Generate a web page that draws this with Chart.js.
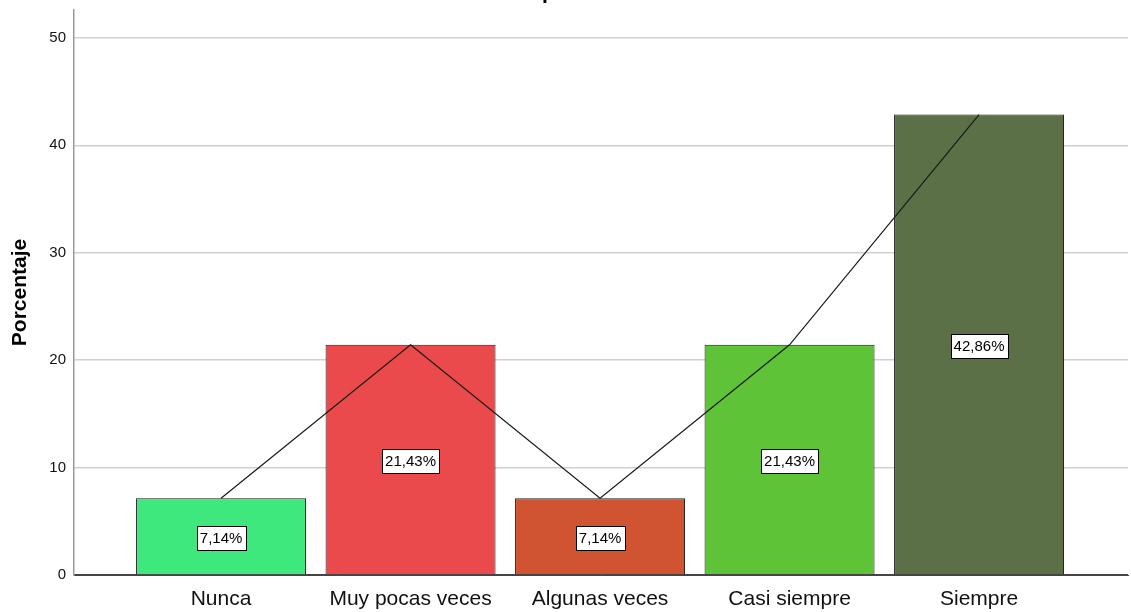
<!DOCTYPE html>
<html>
<head>
<meta charset="utf-8">
<script src="https://cdn.jsdelivr.net/npm/chart.js@4/dist/chart.umd.min.js"></script>
<style>
html,body{margin:0;padding:0;background:#ffffff;}
#wrap{width:1131px;height:612px;position:relative;}
</style>
</head>
<body>
<div id="wrap"><canvas id="c" width="1131" height="612"></canvas></div>
<script>
const categories = ['Nunca', 'Muy pocas veces', 'Algunas veces', 'Casi siempre', 'Siempre'];
const percentages = [7.14, 21.43, 7.14, 21.43, 42.86];
const valueLabels = ['7,14%', '21,43%', '7,14%', '21,43%', '42,86%'];
const barColors = ['#3FE87C', '#EB4A4C', '#D05332', '#5EC337', '#5B7047'];
const yTickValues = [0, 10, 20, 30, 40, 50];
const yAxisTitle = 'Porcentaje';
const clippedTitle = 'p';

const SANS = '"Liberation Sans", Arial, sans-serif';

const barData = categories.map((c, i) => ({ x: i, y: percentages[i] }));

const labelPlugin = {
  id: 'valueLabels',
  afterDatasetsDraw(chart) {
    const ctx = chart.ctx;
    const meta = chart.getDatasetMeta(1);
    const yScale = chart.scales.y;
    ctx.save();
    ctx.font = '15px ' + SANS;
    ctx.textAlign = 'center';
    ctx.textBaseline = 'middle';
    meta.data.forEach((bar, i) => {
      const cx = bar.x;
      const cy = (bar.y + yScale.getPixelForValue(0)) / 2 + 1;
      const txt = valueLabels[i];
      const w = Math.round(ctx.measureText(txt).width + 6);
      const h = 24;
      const x0 = Math.round(cx - w / 2) + 0.5;
      const y0 = Math.round(cy - h / 2) + 0.5;
      ctx.fillStyle = '#ffffff';
      ctx.fillRect(x0, y0, w, h);
      ctx.strokeStyle = '#000000';
      ctx.lineWidth = 1;
      ctx.strokeRect(x0, y0, w, h);
      ctx.fillStyle = '#000000';
      ctx.fillText(txt, cx, cy + 1);
    });
    ctx.restore();
  },
  afterDraw(chart) {
    const ctx = chart.ctx;
    ctx.save();
    ctx.font = 'bold 21px ' + SANS;
    ctx.fillStyle = '#000000';
    ctx.textAlign = 'left';
    ctx.textBaseline = 'alphabetic';
    ctx.fillText(clippedTitle, 542, -1);
    ctx.restore();
  }
};

new Chart(document.getElementById('c'), {
  type: 'bar',
  data: {
    datasets: [
      {
        type: 'line',
        data: barData,
        borderColor: '#1a1a1a',
        borderWidth: 1.2,
        pointRadius: 0,
        fill: false,
        tension: 0,
        order: 0
      },
      {
        type: 'bar',
        data: barData,
        backgroundColor: barColors,
        borderColor: '#1a1a1a',
        borderWidth: 1,
        barPercentage: 0.897,
        categoryPercentage: 1,
        order: 1
      }
    ]
  },
  options: {
    responsive: false,
    animation: false,
    events: [],
    layout: { padding: { top: 10, right: 3, left: 0, bottom: 0 } },
    plugins: { legend: { display: false }, tooltip: { enabled: false }, title: { display: false } },
    scales: {
      x: {
        type: 'linear',
        offset: false,
        min: -0.776,
        max: 4.786,
        afterBuildTicks(axis) { axis.ticks = categories.map((c, i) => ({ value: i })); },
        afterFit(axis) { axis.height = 37; },
        grid: { display: false, drawTicks: false },
        border: { display: true, color: '#444444', width: 1 },
        ticks: {
          autoSkip: false,
          maxRotation: 0,
          padding: 12,
          color: '#111111',
          font: { family: SANS, size: 21 },
          callback: (v) => categories[v] !== undefined ? categories[v] : ''
        }
      },
      y: {
        min: 0,
        max: 52.6,
        afterBuildTicks(axis) { axis.ticks = yTickValues.map(v => ({ value: v })); },
        afterFit(axis) { axis.width = 74; axis.paddingTop = 0; axis.paddingBottom = 0; },
        grid: {
          color: (c) => c.tick && c.tick.value === 0 ? '#444444' : '#CFCFCF',
          lineWidth: 1.5,
          drawTicks: false
        },
        border: { display: true, color: '#999999', width: 1.5 },
        ticks: {
          padding: 8,
          color: '#111111',
          font: { family: SANS, size: 15, lineHeight: 0.6 }
        },
        title: {
          display: true,
          text: yAxisTitle,
          color: '#000000',
          font: { family: SANS, size: 21, weight: 'bold' },
          padding: { top: 8, bottom: 0 }
        }
      }
    }
  },
  plugins: [labelPlugin]
});
</script>
</body>
</html>
